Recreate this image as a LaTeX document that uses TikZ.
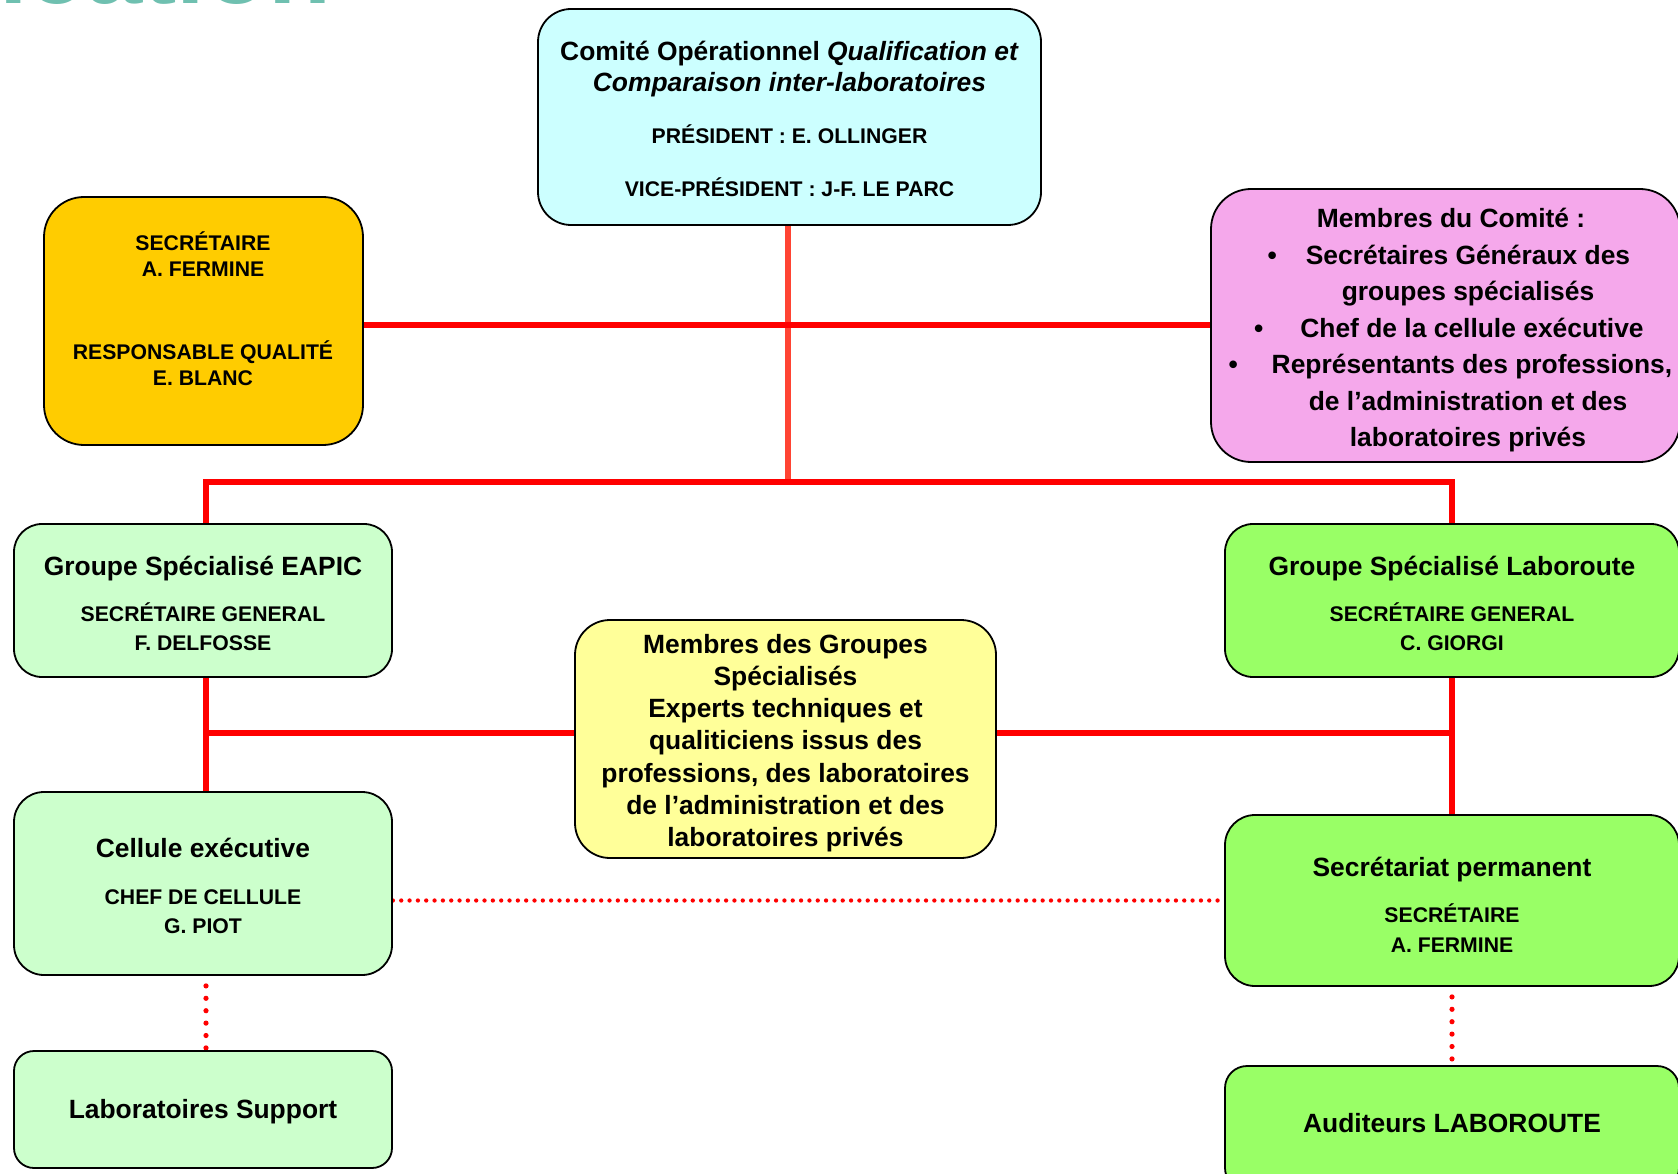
\documentclass[tikz,border=0pt]{standalone}
\usepackage{fontspec}
\setmainfont{Liberation Sans}
\usetikzlibrary{backgrounds}
\definecolor{cyanbox}{HTML}{CCFFFF}
\definecolor{orangebox}{HTML}{FFCC00}
\definecolor{pinkbox}{HTML}{F5A8EB}
\definecolor{palegreen}{HTML}{CCFFCC}
\definecolor{brightgreen}{HTML}{99FF66}
\definecolor{yellowbox}{HTML}{FFFF99}
\definecolor{redline}{HTML}{FF0000}
\definecolor{redtop}{HTML}{FF4433}
\definecolor{tealtxt}{HTML}{6FC0B0}
\newcommand\fbig{\fontsize{26.4pt}{31pt}\selectfont\bfseries}
\newcommand\fsmall{\fontsize{21.2pt}{26pt}\selectfont\bfseries}
\begin{document}
\begin{tikzpicture}[x=1pt,y=-1pt,
  box/.style={draw=black, line width=1.8pt, rounded corners=#1, inner sep=0pt},
  box/.default=30pt,
  tb/.style={anchor=base, inner sep=0pt, font=\fbig},
  ts/.style={anchor=base, inner sep=0pt, font=\fsmall},
  conn/.style={draw=redline, line width=6pt, line join=miter},
  dotconn/.style={draw=redline, line width=4.3pt, line cap=round, dash pattern=on 0pt off 8.33pt},
  dotv/.style={draw=redline, line width=5.2pt, line cap=round, dash pattern=on 0pt off 12.4pt, dash phase=-10pt}]
\useasboundingbox (0,0) rectangle (1678,1174);

% cropped title
\node[anchor=base west, inner sep=0pt, text=tealtxt, font=\fontsize{103pt}{105pt}\selectfont\bfseries] (ttl) at (-1,3.5) {ication};

% boxes
\node[box=33pt, fill=cyanbox, minimum width=503pt, minimum height=216pt] (top) at (789.5,117) {};
\node[box=40pt, fill=orangebox, minimum width=319pt, minimum height=248pt] (sec) at (203.5,321) {};
\node[box=40pt, fill=pinkbox, minimum width=469pt, minimum height=273pt] (pink) at (1445.5,325.5) {};
\node[box=28pt, fill=palegreen, minimum width=378pt, minimum height=153pt] (eapic) at (203,600.5) {};
\node[box=28pt, fill=brightgreen, minimum width=454pt, minimum height=153pt] (labo) at (1452,600.5) {};
\node[box=35pt, fill=yellowbox, minimum width=421pt, minimum height=238pt] (yellow) at (785.5,739) {};
\node[box=30pt, fill=palegreen, minimum width=378pt, minimum height=183pt] (cell) at (203,883.5) {};
\node[box=30pt, fill=brightgreen, minimum width=454pt, minimum height=171pt] (secp) at (1452,900.5) {};
\node[box=20pt, fill=palegreen, minimum width=378pt, minimum height=117pt] (labsup) at (203,1109.5) {};
\node[box=22pt, fill=brightgreen, minimum width=454pt, minimum height=124pt] (aud) at (1452,1128) {};

% texts: top box
\node[tb] (top1) at (789.5,60.7) {Comité Opérationnel \textit{Qualification et}};
\node[tb] (top2) at (789.5,91.7) {\textit{Comparaison inter-laboratoires}};
\node[ts] (top3) at (789.5,144) {PRÉSIDENT : E. OLLINGER};
\node[ts] (top4) at (789.5,196.3) {VICE-PRÉSIDENT : J-F. LE PARC};
% secretary box
\node[ts] (sec1) at (203,250.6) {SECRÉTAIRE};
\node[ts] (sec2) at (203,276.6) {A. FERMINE};
\node[ts] (sec3) at (203,359.6) {RESPONSABLE QUALITÉ};
\node[ts] (sec4) at (203,385.6) {E. BLANC};
% pink box
\node[tb] (pk1) at (1451,228) {Membres du Comité :};
\node[tb] (pk2) at (1468,264.4) {\llap{\textbullet\hspace{29pt}}Secrétaires Généraux des};
\node[tb] (pk3) at (1468,300.8) {groupes spécialisés};
\node[tb] (pk4) at (1472,337.2) {\llap{\textbullet\hspace{37pt}}Chef de la cellule exécutive};
\node[tb] (pk5) at (1472,373.6) {\llap{\textbullet\hspace{34pt}}Représentants des professions,};
\node[tb] (pk6) at (1468,410) {de l’administration et des};
\node[tb] (pk7) at (1468,446.4) {laboratoires privés};
% EAPIC
\node[tb] (ea1) at (203,575.5) {Groupe Spécialisé EAPIC};
\node[ts] (ea2) at (203,621.5) {SECRÉTAIRE GENERAL};
\node[ts] (ea3) at (203,650.5) {F. DELFOSSE};
% Laboroute
\node[tb] (lb1) at (1452,575.5) {Groupe Spécialisé Laboroute};
\node[ts] (lb2) at (1452,621.5) {SECRÉTAIRE GENERAL};
\node[ts] (lb3) at (1452,650.5) {C. GIORGI};
% yellow
\node[tb] (ye1) at (785.5,653.6) {Membres des Groupes};
\node[tb] (ye2) at (785.5,685.7) {Spécialisés};
\node[tb] (ye3) at (785.5,717.8) {Experts techniques et};
\node[tb] (ye4) at (785.5,749.9) {qualiticiens issus des};
\node[tb] (ye5) at (785.5,782) {professions, des laboratoires};
\node[tb] (ye6) at (785.5,814.1) {de l’administration et des};
\node[tb] (ye7) at (785.5,846.2) {laboratoires privés};
% cellule
\node[tb] (ce1) at (203,857) {Cellule exécutive};
\node[ts] (ce2) at (203,904) {CHEF DE CELLULE};
\node[ts] (ce3) at (203,933) {G. PIOT};
% lab support
\node[tb] (ls1) at (203,1118) {Laboratoires Support};
% secretariat
\node[tb] (sp1) at (1452,876) {Secrétariat permanent};
\node[ts] (sp2) at (1452,922) {SECRÉTAIRE};
\node[ts] (sp3) at (1452,952) {A. FERMINE};
% auditeurs
\node[tb] (au1) at (1452,1132) {Auditeurs LABOROUTE};

% connectors
\begin{pgfonlayer}{background}
\fill[white] (0,0) rectangle (1678,1174);
\coordinate (hub) at (788,482);
\coordinate (mid) at (788,325);
\coordinate (low) at (785,733);
\draw[conn, draw=redtop] (top.south -| hub) -- ([yshift=3pt]hub);
\draw[conn] (sec.east |- mid) -- (pink.west |- mid);
\draw[conn] ([xshift=3pt]eapic.north) |- (hub) -| (labo.north);
\draw[conn] ([xshift=3pt]eapic.south) -- ([xshift=3pt]cell.north);
\draw[conn] (yellow.west |- low) -- ([xshift=3pt]eapic.south |- low);
\draw[conn] (labo.south) -- (secp.north);
\draw[conn] (yellow.east |- low) -- (labo.south |- low);
\draw[dotconn] (cell.east |- secp.west) -- (secp.west);
\draw[dotv] ([xshift=3pt]cell.south) -- ([xshift=3pt]labsup.north);
\draw[dotv] (secp.south) -- (aud.north);
\end{pgfonlayer}
\end{tikzpicture}
\end{document}
